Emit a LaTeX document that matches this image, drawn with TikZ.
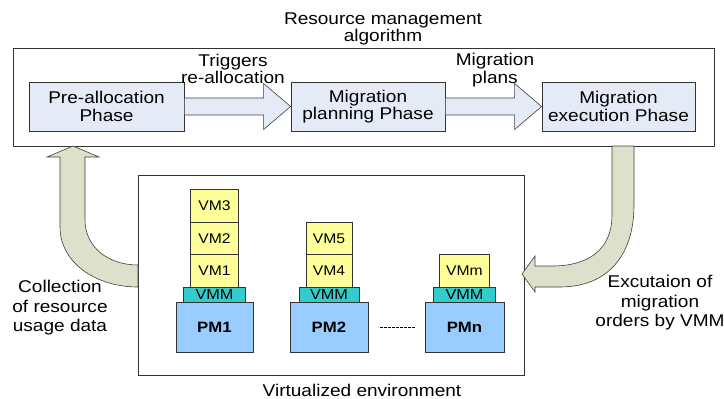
\documentclass[tikz,border=0pt]{standalone}
\usepackage{fontspec}
\setmainfont{Liberation Sans}[FakeStretch=1.12]
\usetikzlibrary{positioning,calc}
\definecolor{phasefill}{RGB}{228,234,246}
\definecolor{loopfill}{RGB}{221,225,203}
\definecolor{pmfill}{RGB}{153,204,255}
\definecolor{vmmfill}{RGB}{51,204,204}
\definecolor{vmfill}{RGB}{255,255,153}

\begin{document}
\begin{tikzpicture}[x=1pt, y=-1pt,
    txt/.style={font=\fontsize{17}{17.5}\selectfont, align=center, text=black},
    frame/.style={draw=black!80, line width=0.8pt},
    phase/.style={draw=black!80, line width=0.8pt, fill=phasefill, minimum height=49pt, txt},
    fatarrow/.style={draw=black!75, line width=0.6pt, fill=phasefill},
    looparrow/.style={draw=black!75, line width=0.6pt, fill=loopfill},
    pm/.style={draw=black!80, line width=0.8pt, fill=pmfill, outer sep=0pt, minimum height=50pt,
      font=\fontsize{15}{15}\selectfont\bfseries},
    vmm/.style={draw=black!80, line width=0.8pt, fill=vmmfill, outer sep=0pt, minimum height=15pt,
      inner sep=0pt, font=\fontsize{14.5}{14.5}\selectfont},
    vm/.style={draw=black!80, line width=0.8pt, fill=vmfill, outer sep=0pt, minimum height=32.5pt,
      inner sep=0pt, font=\fontsize{14}{14}\selectfont},
    dotline/.style={dash pattern=on 2.5pt off 1.5pt, line width=0.9pt, shorten <=12pt, shorten >=10pt}]
  \useasboundingbox (0,0) rectangle (724,399);

  % Resource management algorithm
  \node[frame, minimum width=701pt, minimum height=98pt] (alg) at (363.5,97) {};
  \node[txt] (algtitle) at (383,29) {Resource management\\algorithm};

  % Phases
  \node[phase, minimum width=155pt] (pre) at (106.5,106.5) {Pre-allocation\\Phase};
  \node[phase, minimum width=154pt] (plan) at (368,106.5) {Migration\\planning Phase};
  \node[phase, minimum width=153pt] (exec) at (618.5,106.5) {Migration\\execution Phase};

  % Block arrows between phases
  \draw[fatarrow] ($(pre.east)+(0,-8.5)$) -- ($(plan.west)+(-27,-8.5)$) -- ($(plan.west)+(-27,-23)$)
    -- (plan.west) -- ($(plan.west)+(-27,23)$) -- ($(plan.west)+(-27,8.5)$) -- ($(pre.east)+(0,8.5)$) -- cycle;
  \draw[fatarrow] ($(plan.east)+(0,-8.5)$) -- ($(exec.west)+(-27,-8.5)$) -- ($(exec.west)+(-27,-23)$)
    -- (exec.west) -- ($(exec.west)+(-27,23)$) -- ($(exec.west)+(-27,8.5)$) -- ($(plan.east)+(0,8.5)$) -- cycle;
  \node[txt] (trig) at (233,69) {Triggers\\re-allocation};
  \node[txt] (plans) at (495,70) {Migration\\plans};

  % Virtualized environment
  \node[frame, minimum width=386pt, minimum height=200pt] (env) at (331,275) {};
  \node[txt] (envtitle) at (362,390) {Virtualized environment};

  % Machines
  \node[pm, minimum width=77pt] (pm1) at (214.5,327) {PM1};
  \node[vmm, minimum width=62pt, above=0pt of pm1] (vmm1) {VMM};
  \node[vm, minimum width=48pt, above=0pt of vmm1] (vm1) {VM1};
  \node[vm, minimum width=48pt, above=0pt of vm1] (vm2) {VM2};
  \node[vm, minimum width=48pt, above=0pt of vm2] (vm3) {VM3};

  \node[pm, minimum width=78pt] (pm2) at (329,327) {PM2};
  \node[vmm, minimum width=60pt, above=0pt of pm2] (vmm2) {VMM};
  \node[vm, minimum width=46pt, above=0pt of vmm2] (vm4) {VM4};
  \node[vm, minimum width=46pt, above=0pt of vm4] (vm5) {VM5};

  \node[pm, minimum width=79pt] (pmn) at (464.5,327) {PMn};
  \node[vmm, minimum width=62pt, above=0pt of pmn] (vmmn) {VMM};
  \node[vm, minimum width=50pt, above=0pt of vmmn] (vmm) {VMm};

  \draw[dotline] (pm2.east) -- (pmn.west);

  % Collection of resource usage data
  \draw[looparrow] (138,287) .. controls (95,287) and (60,262) .. (60,227) -- (60,157) -- (47,157)
    -- (73,146) -- (99,157) -- (85,157) -- (85,220) .. controls (85,247) and (108,265) .. (138,265) -- cycle;
  \node[txt, font=\fontsize{17}{19.5}\selectfont] (collect) at (60,308) {Collection\\of resource\\usage data};

  % Execution of migration orders
  \draw[looparrow] (612,146) -- (612,215) .. controls (612,250) and (588,266) .. (552,266) -- (535,266)
    -- (535,256) -- (522,274) -- (535,292) -- (535,287) -- (560,287) .. controls (608,287) and (634,255) .. (634,205)
    -- (634,146) -- cycle;
  \node[txt, font=\fontsize{17}{19.5}\selectfont] (orders) at (660,303) {Excutaion of\\migration\\orders by VMM};
\end{tikzpicture}
\end{document}
